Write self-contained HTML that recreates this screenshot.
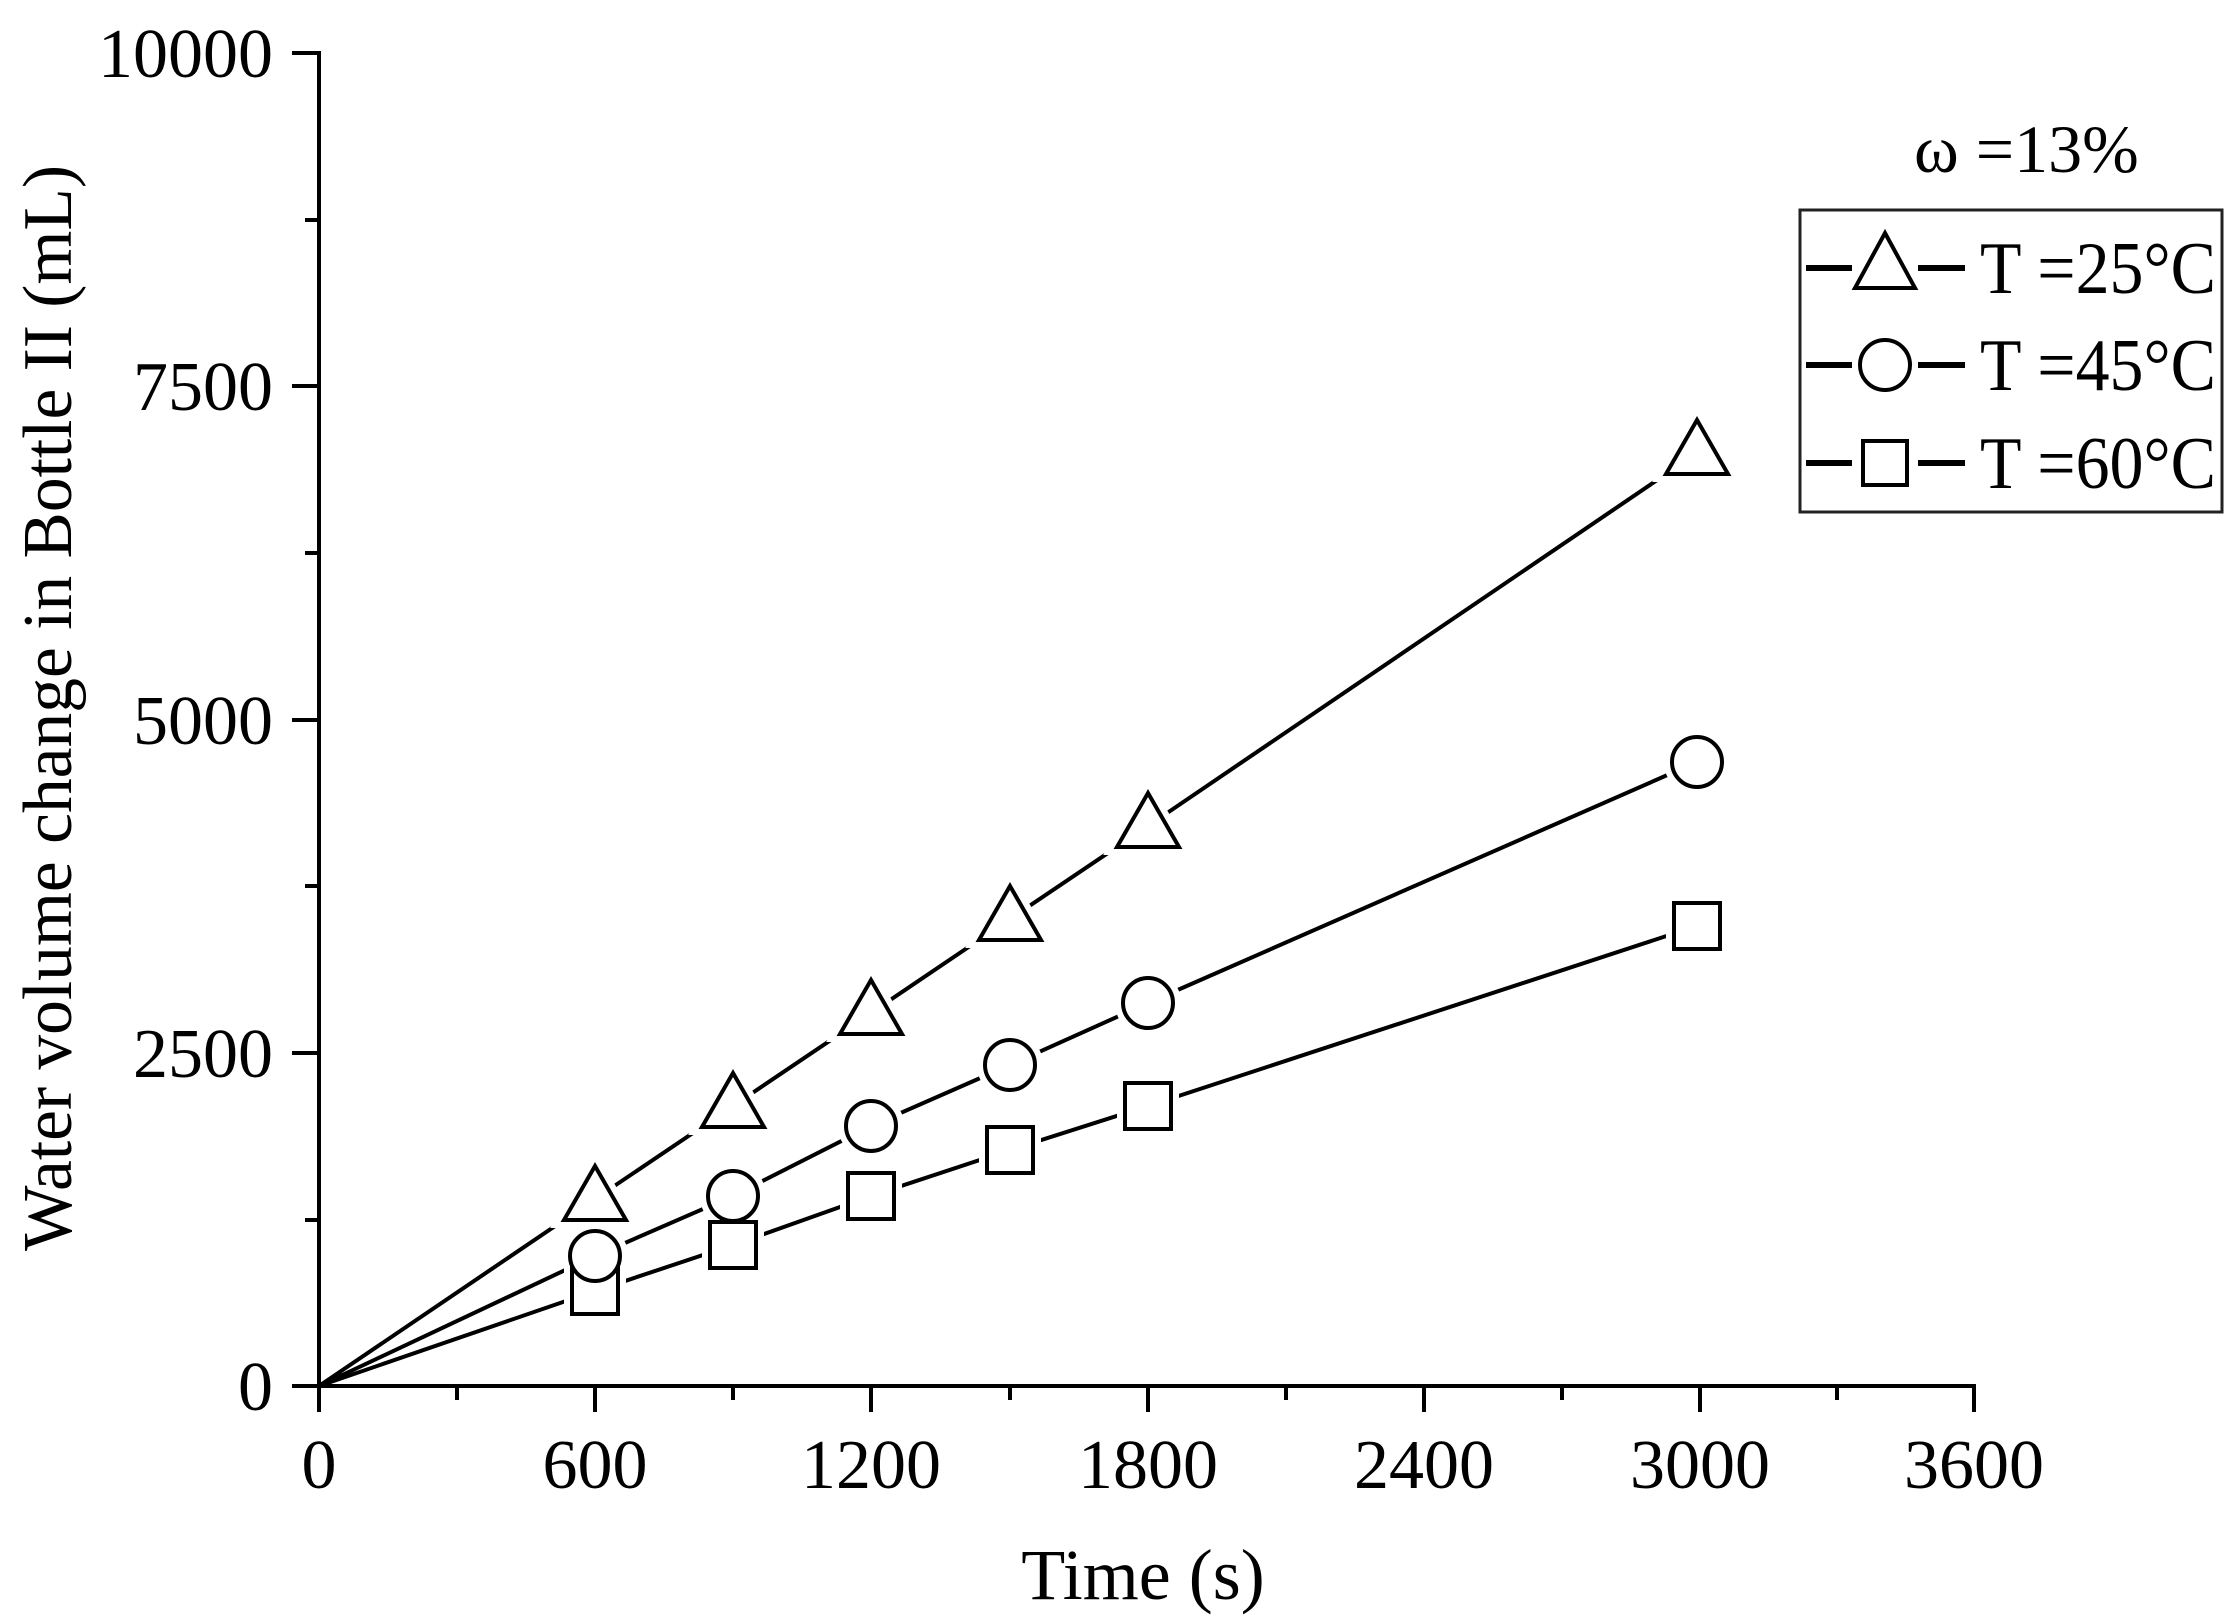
<!DOCTYPE html>
<html><head><meta charset="utf-8"><style>html,body{margin:0;padding:0;background:#fff}svg{display:block}</style></head>
<body>
<svg width="2236" height="1623" viewBox="0 0 2236 1623" xmlns="http://www.w3.org/2000/svg" font-family="Liberation Serif, serif" fill="#000">
<defs>
<path id="tri" d="M0,-33 L31,21 L-31,21 Z"/>
<circle id="cir" r="25"/>
<rect id="sq" x="-23" y="-23" width="46" height="46"/>
</defs>
<g stroke="#000" stroke-width="4" fill="none">
<line x1="319" y1="51" x2="319" y2="1412"/>
<line x1="292" y1="1386" x2="1976" y2="1386"/>
<line x1="292" y1="53" x2="319" y2="53"/>
<line x1="292" y1="386" x2="319" y2="386"/>
<line x1="292" y1="720" x2="319" y2="720"/>
<line x1="292" y1="1053" x2="319" y2="1053"/>
<line x1="305" y1="220" x2="319" y2="220"/>
<line x1="305" y1="553" x2="319" y2="553"/>
<line x1="305" y1="886" x2="319" y2="886"/>
<line x1="305" y1="1220" x2="319" y2="1220"/>
<line x1="595" y1="1386" x2="595" y2="1412"/>
<line x1="871" y1="1386" x2="871" y2="1412"/>
<line x1="1148" y1="1386" x2="1148" y2="1412"/>
<line x1="1424" y1="1386" x2="1424" y2="1412"/>
<line x1="1700" y1="1386" x2="1700" y2="1412"/>
<line x1="1974" y1="1384" x2="1974" y2="1412"/>
<line x1="457" y1="1386" x2="457" y2="1400"/>
<line x1="733" y1="1386" x2="733" y2="1400"/>
<line x1="1010" y1="1386" x2="1010" y2="1400"/>
<line x1="1286" y1="1386" x2="1286" y2="1400"/>
<line x1="1562" y1="1386" x2="1562" y2="1400"/>
<line x1="1837" y1="1386" x2="1837" y2="1400"/>
<polyline points="319,1386 595,1199 733,1106 871,1013 1010,919 1148,826 1697,453"/>
<polyline points="319,1386 595,1256 733,1196 871,1126 1010,1065 1148,1003 1697,762"/>
<polyline points="319,1386 595,1291 733,1245 871,1196 1010,1150 1148,1106 1697,926"/>
</g>
<g fill="#fff" stroke="#fff" stroke-width="16">
<use href="#tri" x="595" y="1199"/><use href="#tri" x="733" y="1106"/><use href="#tri" x="871" y="1013"/><use href="#tri" x="1010" y="919"/><use href="#tri" x="1148" y="826"/><use href="#tri" x="1697" y="453"/>
<use href="#cir" x="595" y="1256"/><use href="#cir" x="733" y="1196"/><use href="#cir" x="871" y="1126"/><use href="#cir" x="1010" y="1065"/><use href="#cir" x="1148" y="1003"/><use href="#cir" x="1697" y="762"/>
<use href="#sq" x="595" y="1291"/><use href="#sq" x="733" y="1245"/><use href="#sq" x="871" y="1196"/><use href="#sq" x="1010" y="1150"/><use href="#sq" x="1148" y="1106"/><use href="#sq" x="1697" y="926"/>
</g>
<g fill="#fff" stroke="#000" stroke-width="4">
<use href="#sq" x="595" y="1291"/><use href="#sq" x="733" y="1245"/><use href="#sq" x="871" y="1196"/><use href="#sq" x="1010" y="1150"/><use href="#sq" x="1148" y="1106"/><use href="#sq" x="1697" y="926"/>
<use href="#cir" x="595" y="1256"/><use href="#cir" x="733" y="1196"/><use href="#cir" x="871" y="1126"/><use href="#cir" x="1010" y="1065"/><use href="#cir" x="1148" y="1003"/><use href="#cir" x="1697" y="762"/>
<use href="#tri" x="595" y="1199"/><use href="#tri" x="733" y="1106"/><use href="#tri" x="871" y="1013"/><use href="#tri" x="1010" y="919"/><use href="#tri" x="1148" y="826"/><use href="#tri" x="1697" y="453"/>
</g>
<g font-size="70" text-anchor="end">
<text x="273" y="77">10000</text>
<text x="273" y="410">7500</text>
<text x="273" y="744">5000</text>
<text x="273" y="1077">2500</text>
<text x="273" y="1410">0</text>
</g>
<g font-size="70" text-anchor="middle">
<text x="319" y="1488">0</text>
<text x="595" y="1488">600</text>
<text x="871" y="1488">1200</text>
<text x="1148" y="1488">1800</text>
<text x="1424" y="1488">2400</text>
<text x="1700" y="1488">3000</text>
<text x="1974" y="1488">3600</text>
</g>
<text x="1143" y="1599" font-size="72" text-anchor="middle">Time (s)</text>
<text transform="translate(71,708) rotate(-90)" font-size="70" text-anchor="middle" textLength="1086" lengthAdjust="spacingAndGlyphs">Water volume change in Bottle II (mL)</text>
<text x="1914" y="172" font-size="68">ω =13%</text>
<rect x="1800" y="210" width="422" height="302" fill="none" stroke="#222" stroke-width="3"/>
<g stroke="#000" stroke-width="6">
<line x1="1806" y1="268" x2="1852" y2="268"/><line x1="1918" y1="268" x2="1965" y2="268"/>
<line x1="1806" y1="365" x2="1852" y2="365"/><line x1="1918" y1="365" x2="1965" y2="365"/>
<line x1="1806" y1="463" x2="1852" y2="463"/><line x1="1918" y1="463" x2="1965" y2="463"/>
</g>
<g fill="#fff" stroke="#000" stroke-width="4">
<path d="M1885,233 L1915,288 L1855,288 Z"/>
<circle cx="1885" cy="365" r="25"/>
<rect x="1863" y="441" width="44" height="44"/>
</g>
<g font-size="74">
<text x="1980" y="293" textLength="236" lengthAdjust="spacingAndGlyphs">T =25°C</text>
<text x="1980" y="390" textLength="236" lengthAdjust="spacingAndGlyphs">T =45°C</text>
<text x="1980" y="488" textLength="236" lengthAdjust="spacingAndGlyphs">T =60°C</text>
</g>
</svg>
</body></html>
